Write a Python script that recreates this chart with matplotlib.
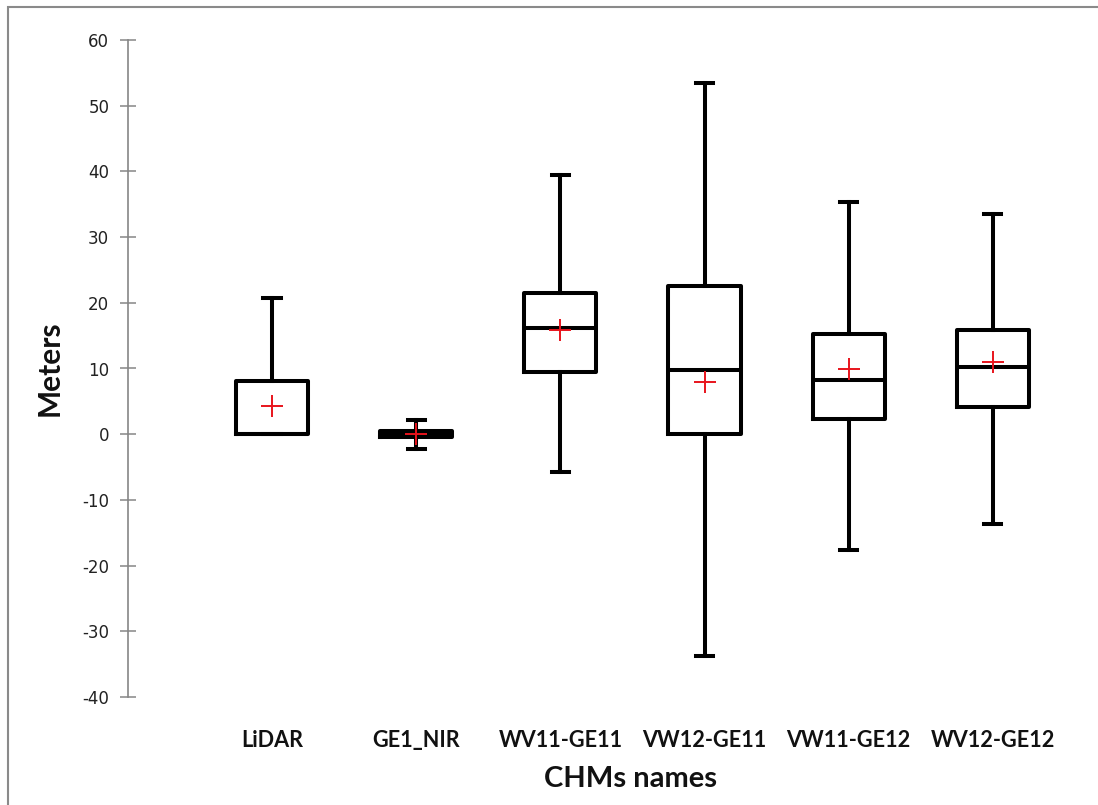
import matplotlib
matplotlib.use("Agg")
import matplotlib.pyplot as plt
from matplotlib.patches import Rectangle

# Canopy height model summary statistics (meters)
categories = ["LiDAR", "GE1_NIR", "WV11-GE11", "VW12-GE11", "VW11-GE12", "WV12-GE12"]
whisker_low = [0.0, -2.3, -5.7, -33.7, -17.7, -13.7]
quartile_1 = [0.0, -0.5, 9.4, 0.0, 2.3, 4.1]
median = [0.0, 0.0, 16.2, 9.7, 8.2, 10.2]
quartile_3 = [8.1, 0.55, 21.5, 22.5, 15.3, 15.8]
whisker_high = [20.8, 2.1, 39.5, 53.4, 35.3, 33.5]
mean = [4.3, 0.1, 15.8, 8.0, 9.9, 11.0]
y_ticks = [-40, -30, -20, -10, 0, 10, 20, 30, 40, 50, 60]

W, H = 1098, 805
fig = plt.figure(figsize=(W / 100, H / 100), dpi=100)
fig.patch.set_facecolor("white")

# outer chart frame
fig.patches.append(Rectangle((8 / W, -0.05), 1.2, (H - 7) / H + 0.05,
                             transform=fig.transFigure, fill=False,
                             edgecolor="#8a8a8a", linewidth=1.5))

ax = fig.add_axes([128 / W, 108 / H, (W - 128) / W, (697 - 40) / H])

stats = []
for i, name in enumerate(categories):
    stats.append(dict(label=name, whislo=whisker_low[i], q1=quartile_1[i],
                      med=median[i], q3=quartile_3[i], whishi=whisker_high[i],
                      mean=mean[i], fliers=[]))

lw = 2.9
ax.bxp(stats, positions=range(1, len(categories) + 1), widths=0.5,
       capwidths=0.12, showmeans=True, patch_artist=False,
       boxprops=dict(color="black", linewidth=lw),
       whiskerprops=dict(color="black", linewidth=lw),
       capprops=dict(color="black", linewidth=lw),
       medianprops=dict(color="black", linewidth=lw),
       meanprops=dict(marker="+", markersize=16, markeredgewidth=1.4,
                      markeredgecolor="#e8141c", markerfacecolor="none"))

ax.set_xlim(0, 6.73)
ax.set_ylim(-40, 60)
ax.set_yticks(y_ticks)
ax.set_yticklabels([str(t) for t in y_ticks])

for s in ["top", "right", "bottom"]:
    ax.spines[s].set_visible(False)
ax.spines["left"].set_color("#868686")
ax.spines["left"].set_linewidth(1.2)

ax.tick_params(axis="y", direction="inout", length=11, width=1.1,
               color="#868686", labelsize=12, labelcolor="#222222", pad=8)
ax.tick_params(axis="x", length=0, pad=24)
for lab in ax.get_xticklabels():
    lab.set_fontfamily("Lato")
    lab.set_fontweight("bold")
    lab.set_fontsize(15.6)
    lab.set_color("#111111")

fig.text(50 / W, 1 - 368 / H, "Meters", rotation=90, ha="center", va="center",
         fontfamily="Lato", fontweight="bold", fontsize=21.5, color="#111111")
fig.text(630 / W, 1 - 779 / H, "CHMs names", ha="center", va="center",
         fontfamily="Lato", fontweight="bold", fontsize=21, color="#111111")

fig.savefig("out.png", dpi=100)
